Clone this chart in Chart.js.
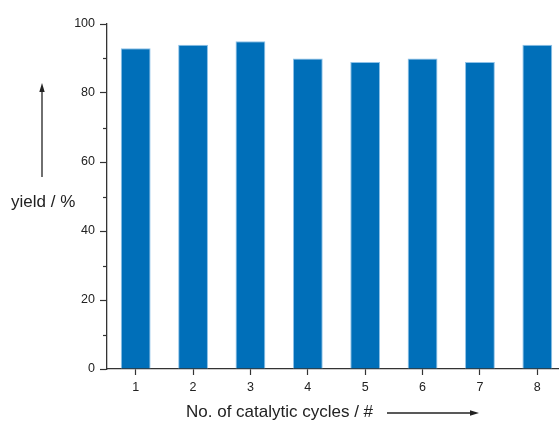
<!DOCTYPE html>
<html>
<head>
<meta charset="utf-8">
<script src="https://cdn.jsdelivr.net/npm/chart.js@4/dist/chart.umd.min.js"></script>
<style>
  html, body { margin: 0; padding: 0; background: #fff; overflow: hidden; }
  canvas { display: block; }
</style>
</head>
<body>
<canvas id="chart" width="567" height="421"></canvas>
<script>
const cycles = ["1", "2", "3", "4", "5", "6", "7", "8"];
const yields = [93, 94, 95, 90, 89, 90, 89, 94];
const yTicksMajor = [0, 20, 40, 60, 80, 100];
const yTicksMinor = [10, 30, 50, 70, 90];

const FONT = '"Liberation Sans", Arial, sans-serif';
const INK = '#222';

// minor ticks, axis titles and the two arrows
const decor = {
  id: 'decor',
  afterDraw(chart){
    const ctx = chart.ctx;
    const y = chart.scales.y;
    const left = chart.chartArea.left;
    ctx.save();
    ctx.strokeStyle = '#333';
    ctx.lineWidth = 1.2;
    yTicksMinor.forEach(v => {
      const py = Math.round(y.getPixelForValue(v)) + 0.5;
      ctx.beginPath();
      ctx.moveTo(left - 4, py);
      ctx.lineTo(left, py);
      ctx.stroke();
    });

    ctx.fillStyle = INK;
    ctx.font = '17px ' + FONT;
    ctx.textBaseline = 'middle';
    ctx.textAlign = 'left';
    ctx.fillText('yield / %', 11, 202);
    ctx.fillText('No. of catalytic cycles / #', 186, 412);

    // arrows
    ctx.strokeStyle = '#222';
    ctx.fillStyle = '#222';
    ctx.lineWidth = 1.3;
    ctx.beginPath();
    ctx.moveTo(42, 177);
    ctx.lineTo(42, 90);
    ctx.stroke();
    ctx.beginPath();
    ctx.moveTo(42, 83);
    ctx.lineTo(39.3, 92);
    ctx.lineTo(44.7, 92);
    ctx.closePath();
    ctx.fill();

    ctx.beginPath();
    ctx.moveTo(387, 413);
    ctx.lineTo(472, 413);
    ctx.stroke();
    ctx.beginPath();
    ctx.moveTo(479, 413);
    ctx.lineTo(470, 410.3);
    ctx.lineTo(470, 415.7);
    ctx.closePath();
    ctx.fill();
    ctx.restore();
  }
};

new Chart(document.getElementById('chart').getContext('2d'), {
  type: 'bar',
  data: {
    labels: cycles,
    datasets: [{
      data: yields,
      backgroundColor: '#006fb9',
      borderColor: '#8ec2e8',
      borderWidth: 1,
      barPercentage: 0.52,
      categoryPercentage: 1
    }]
  },
  options: {
    responsive: false,
    animation: false,
    layout: { padding: { top: 24, right: 1, left: 0, bottom: 0 } },
    plugins: { legend: { display: false }, tooltip: { enabled: false } },
    scales: {
      x: {
        offset: true,
        afterFit: s => { s.height = 52; },
        grid: { offset: false, drawOnChartArea: false, tickLength: 6, tickColor: '#333', tickWidth: 1.2 },
        border: { display: true, color: '#333', width: 1.3 },
        ticks: { color: INK, font: { family: FONT, size: 12.5 }, padding: 5, maxRotation: 0 }
      },
      y: {
        min: 0, max: 100,
        afterFit: s => { s.width = 107; },
        afterBuildTicks: s => { s.ticks = yTicksMajor.map(v => ({ value: v })); },
        grid: { drawOnChartArea: false, tickLength: 7, tickColor: '#333', tickWidth: 1.2 },
        border: { display: true, color: '#333', width: 1.3 },
        ticks: { color: INK, font: { family: FONT, size: 12.5 }, padding: 5 }
      }
    }
  },
  plugins: [decor]
});
</script>
</body>
</html>
